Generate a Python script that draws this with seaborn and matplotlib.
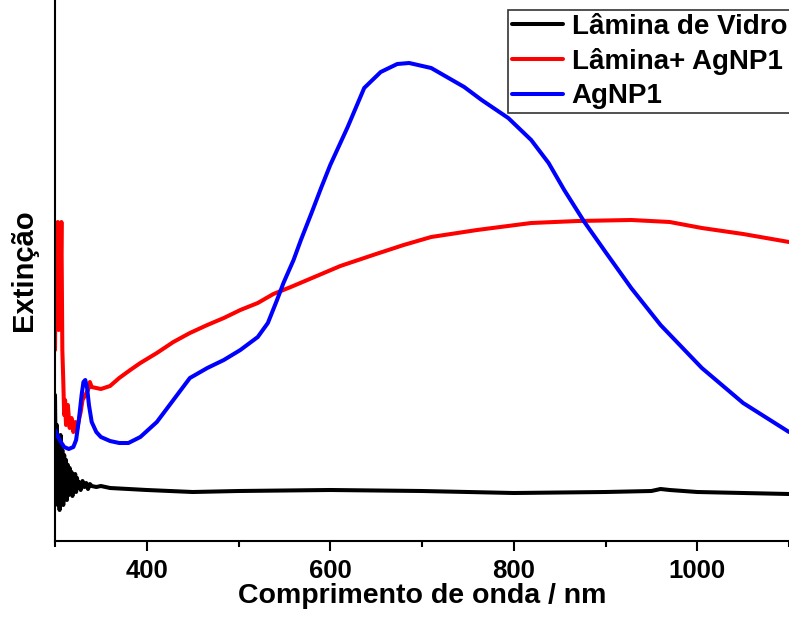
import pandas as pd
import matplotlib.pyplot as plt
import seaborn as sns
import numpy as np
from matplotlib.ticker import MultipleLocator

sns.set_style('ticks')
plt.rcParams['font.family'] = ['Liberation Sans', 'DejaVu Sans']
plt.rcParams['font.weight'] = 'bold'
plt.rcParams['text.color'] = 'black'
plt.rcParams['axes.labelcolor'] = 'black'
plt.rcParams['axes.edgecolor'] = 'black'
plt.rcParams['xtick.color'] = 'black'

# Dados (extinção em unidades arbitrárias, escala de pixels)
vidro_nm = [300, 301, 302, 303, 304, 305, 306, 307, 308, 309, 310, 311, 312, 313, 314,
            315, 316, 317, 318, 319, 320, 321, 322, 323, 324, 325, 326, 328, 330, 332,
            334, 336, 338, 340, 345, 350, 360, 380, 400, 450, 500, 600, 700, 800, 900,
            950, 960, 970, 1000, 1100]
vidro_px = [395, 480, 425, 505, 440, 510, 435, 500, 450, 505, 455, 498, 460, 500, 465,
            495, 468, 492, 472, 496, 476, 490, 474, 492, 478, 488, 482, 490, 481, 487,
            483, 489, 484, 486, 487, 486, 488, 489, 490, 492, 491, 490, 491, 493, 492,
            491, 489, 490, 492, 494]

lamina_nm = [300, 301, 302, 303, 304, 305, 306, 307, 308, 309, 310, 311, 312, 314, 316,
             318, 320, 322, 324, 326, 328, 330, 333, 336, 338, 340, 345, 350, 360, 370,
             382, 393, 411, 429, 447, 466, 484, 502, 521, 538, 557, 575, 593, 611, 650,
             680, 710, 760, 819, 870, 928, 970, 1005, 1050, 1100]
lamina_px = [350, 225, 300, 222, 330, 225, 290, 222, 350, 380, 415, 400, 425, 405, 428,
             418, 432, 422, 430, 420, 412, 400, 395, 390, 382, 387, 388, 389, 386, 378,
             370, 363, 353, 342, 333, 325, 318, 310, 303, 294, 287, 280, 273, 266, 254,
             245, 237, 230, 223, 221, 220, 222, 228, 234, 242]

agnp_nm = [300, 305, 310, 315, 320, 323, 326, 329, 331, 333, 335, 337, 340, 345, 350,
           360, 370, 380, 393, 411, 429, 447, 466, 484, 502, 521, 532, 542, 549, 560,
           568, 580, 590, 600, 619, 637, 655, 673, 686, 710, 746, 765, 794, 819, 838,
           855, 877, 900, 928, 960, 1005, 1050, 1100]
agnp_px = [430, 440, 447, 449, 447, 440, 420, 395, 382, 380, 388, 405, 422, 432, 437,
           441, 443, 443, 437, 422, 400, 378, 368, 360, 350, 337, 323, 300, 283, 260,
           240, 212, 188, 165, 127, 88, 72, 64, 63, 68, 87, 100, 118, 140, 163,
           190, 222, 252, 288, 325, 368, 403, 432]

labels = ['Lâmina de Vidro', 'Lâmina+ AgNP1', 'AgNP1']
cores = ['black', 'red', 'blue']


def to_ext(px):
    return (541 - np.array(px)) / 100.0


df = pd.concat([
    pd.DataFrame({'nm': vidro_nm, 'ext': to_ext(vidro_px), 'amostra': labels[0]}),
    pd.DataFrame({'nm': lamina_nm, 'ext': to_ext(lamina_px), 'amostra': labels[1]}),
    pd.DataFrame({'nm': agnp_nm, 'ext': to_ext(agnp_px), 'amostra': labels[2]}),
], ignore_index=True)

fig = plt.figure(figsize=(7.89, 6.17), dpi=100)
ax = fig.add_axes([55 / 789, 76 / 617, 734 / 789, 541 / 617])

sns.lineplot(data=df, x='nm', y='ext', hue='amostra', hue_order=labels,
             palette=cores, estimator=None, sort=False, linewidth=2.9, ax=ax)

ax.set_xlim(300, 1100)
ax.set_ylim(0, 5.41)
ax.set_yticks([])
ax.xaxis.set_major_locator(MultipleLocator(200))
ax.xaxis.set_minor_locator(MultipleLocator(100))
ax.tick_params(axis='x', which='major', length=7, width=1.5, labelsize=18.5, pad=6)
ax.tick_params(axis='x', which='minor', length=4, width=1.5)
for lab in ax.get_xticklabels():
    lab.set_fontweight('bold')
ax.set_xlabel('Comprimento de onda / nm', fontsize=20.5, fontweight='bold', labelpad=0)
ax.set_ylabel('Extinção', fontsize=21, fontweight='bold', labelpad=12)
sns.despine(ax=ax)
for s in ['left', 'bottom']:
    ax.spines[s].set_linewidth(1.5)

leg = ax.legend(loc='upper right', bbox_to_anchor=(1.003, 1 - 10 / 617),
                bbox_transform=fig.transFigure, fontsize=20,
                frameon=True, fancybox=False, edgecolor='black', handlelength=1.86,
                borderpad=0.15, labelspacing=0.29, handletextpad=0.3, borderaxespad=0)
leg.get_frame().set_linewidth(1.2)
for t in leg.get_texts():
    t.set_fontweight('bold')
for l in leg.get_lines():
    l.set_linewidth(2.9)

fig.savefig('out.png', dpi=100)
